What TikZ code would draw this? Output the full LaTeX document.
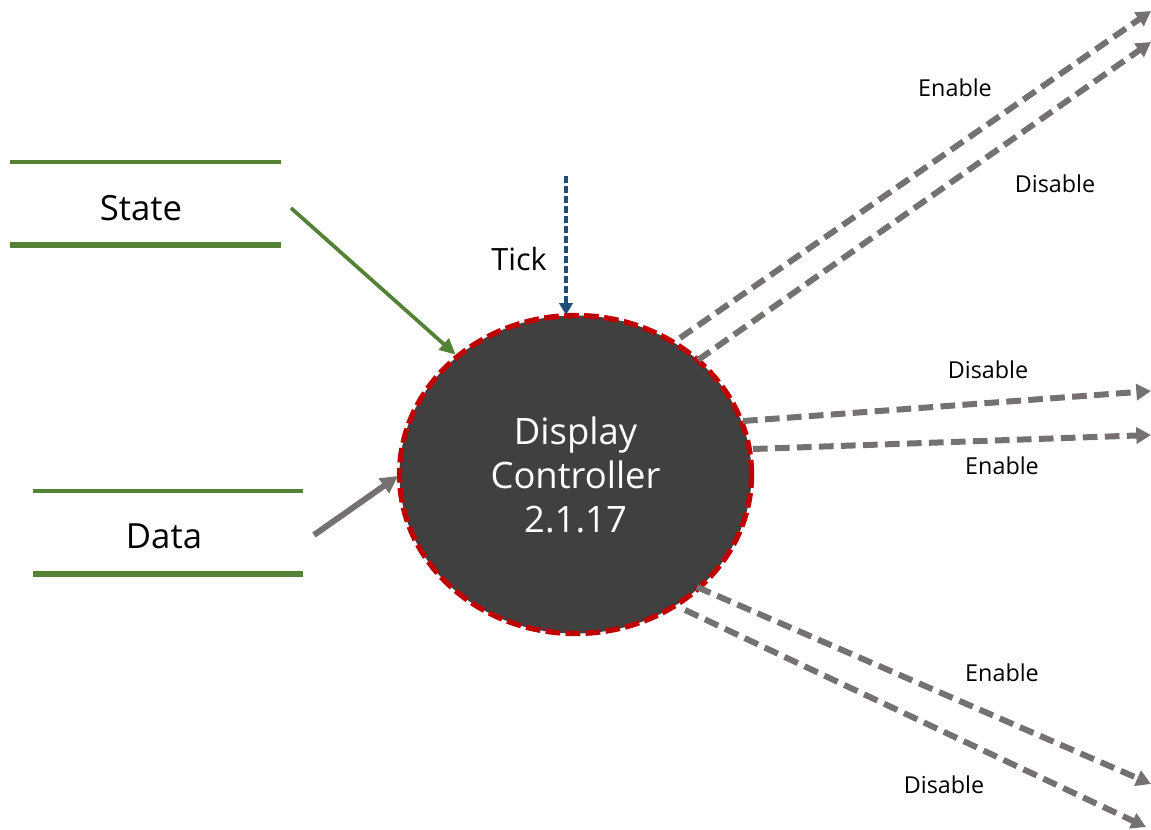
\documentclass[tikz,border=0pt]{standalone}
\usepackage{fontspec}
\setmainfont{Open Sans}
\usetikzlibrary{arrows.meta,shapes.geometric}
\definecolor{dfdgray}{HTML}{404040}
\definecolor{dfdred}{HTML}{C00000}
\definecolor{dfdgreen}{HTML}{548235}
\definecolor{dfdflow}{HTML}{767171}
\definecolor{dfdblue}{HTML}{1F4E79}
\tikzset{
  flowline/.style={draw=dfdflow, line width=4.5pt, dash pattern=on 11pt off 5.5pt, -{Triangle[length=11pt,width=12pt]}},
  flowlbl/.style={font=\fontsize{17.5}{20}\selectfont, text=black, inner sep=0pt},
  storeline/.style={draw=dfdgreen, line width=2.5pt},
  storethick/.style={draw=dfdgreen, line width=5pt},
  storelbl/.style={font=\fontsize{26}{30}\selectfont, inner sep=0pt},
}
\begin{document}
\begin{tikzpicture}[x=0.75pt,y=-0.75pt]
\useasboundingbox (0,0) rectangle (1151,830);
% process
\node[ellipse, minimum width=264pt, minimum height=238.5pt, fill=dfdgray, draw=dfdred, line width=4pt, dash pattern=on 11pt off 4pt, inner sep=0pt, align=center, text=white, font=\fontsize{27.3}{33}\selectfont] (proc) at (575.5,474.5) {Display\\Controller\\2.1.17};
% stores
\draw[storeline] (10,162) -- (281,162);
\draw[storethick] (10,245) -- (281,245);
\node[storelbl] (state) at (141,208) {State};
\draw[storeline] (33,491) -- (303,491);
\draw[storethick] (33,574) -- (303,574);
\node[storelbl] (data) at (164,536) {Data};
% inputs
\coordinate (stateout) at (291,208);
\coordinate (dataout) at (314,535);
\draw[draw=dfdgreen, line width=2.8pt, -{Triangle[length=12pt,width=11pt]}] (stateout) -- (proc.135);
\draw[draw=dfdflow, line width=4.5pt, -{Triangle[length=13pt,width=13pt]}] (dataout) -- (398,476);
\coordinate (ticktop) at (566,176);
\draw[draw=dfdblue, line width=2.3pt, dash pattern=on 5pt off 2.5pt, -{Triangle[length=9pt,width=10pt]}] (ticktop) -- (566,315);
\node[font=\fontsize{23}{26}\selectfont, inner sep=0pt] (tick) at (519,259) {Tick};
% outputs
\coordinate (o1) at (1151,11);
\coordinate (o2) at (1151,42);
\coordinate (o3) at (1151,391);
\coordinate (o4) at (1151,435);
\coordinate (o5) at (1151,784);
\coordinate (o6) at (1146,827);
\draw[flowline] (680,338) -- (o1);
\draw[flowline] (698,360) -- (o2);
\draw[flowline] (743,421) -- (o3);
\draw[flowline] (753,449) -- (o4);
\draw[flowline] (697,587) -- (o5);
\draw[flowline] (685,610) -- (o6);
\node[flowlbl] (l1) at (955,88) {Enable};
\node[flowlbl] (l2) at (1055,184) {Disable};
\node[flowlbl] (l3) at (988,370) {Disable};
\node[flowlbl] (l4) at (1002,466) {Enable};
\node[flowlbl] (l5) at (1002,673) {Enable};
\node[flowlbl] (l6) at (944,785) {Disable};
\end{tikzpicture}
\end{document}
